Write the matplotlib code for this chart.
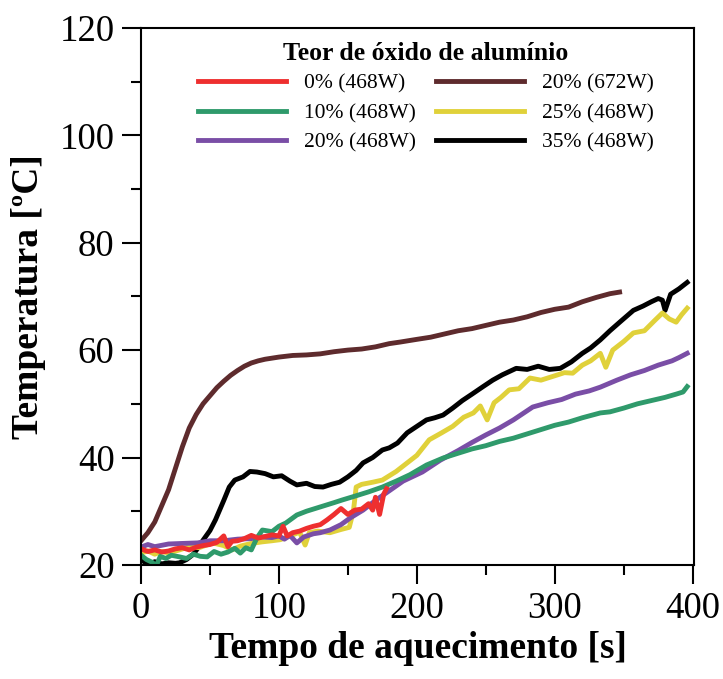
import matplotlib
matplotlib.use("Agg")
import matplotlib.pyplot as plt
from matplotlib.ticker import MultipleLocator

plt.rcParams['font.family'] = ['Liberation Serif', 'DejaVu Serif']

# tempo [s] / temperatura [C]
t_red = [0, 5, 10, 15, 20, 25, 30, 35, 40, 45, 50, 55, 60, 63, 66, 70, 75, 80, 85, 90, 95, 100, 103, 106, 110,
         115, 120, 125, 130, 135, 140, 145, 150, 155, 160, 165, 168, 170, 173, 176, 178]
y_red = [23, 22.5, 22.8, 22.4, 22.6, 23, 23.2, 22.8, 23.3, 23.6, 23.8, 24.2, 25.4, 23.4, 24.4, 24.5, 24.9, 25.5, 25, 25.3,
         25.6, 25.4, 27.2, 25.4, 26, 26.3, 26.8, 27.2, 27.5, 28.4, 29.4, 30.5, 29.4, 30.2, 30.4, 31.4, 30.2, 32.6, 29.4, 33.2, 34.2]

t_green = [0, 4, 8, 11, 14, 18, 22, 28, 33, 38, 43, 48, 53, 58, 63, 68, 72, 76, 80, 84, 88, 95, 100, 105, 113, 120,
           130, 140, 146, 155, 165, 175, 185, 195, 207, 219, 230, 240, 250, 260, 270, 280, 290, 300, 310, 320, 333,
           340, 350, 360, 370, 380, 388, 393, 396]
y_green = [21.8, 21, 20.5, 19.8, 21.6, 21.2, 21.8, 21.5, 21.2, 22, 21.6, 21.5, 22.5, 22, 22.4, 23.1, 22.2, 23.2, 22.8,
           25, 26.5, 26.2, 27.2, 27.8, 29.3, 30, 30.8, 31.6, 32.1, 32.8, 33.6, 34.5, 35.6, 36.8, 38.6, 39.9, 40.8, 41.6,
           42.2, 43, 43.6, 44.4, 45.2, 46, 46.6, 47.4, 48.3, 48.5, 49.2, 50, 50.6, 51.2, 51.8, 52.2, 53.2]

t_purple = [0, 5, 10, 20, 30, 41, 50, 60, 70, 80, 88, 95, 100, 104, 108, 113, 118, 125, 130, 137, 145, 152, 161, 170,
            180, 190, 204, 217, 230, 240, 250, 260, 270, 284, 295, 305, 315, 325, 333, 345, 355, 365, 375, 385, 390, 396]
y_purple = [23.3, 23.8, 23.4, 23.9, 24, 24.1, 24.5, 24.5, 24.8, 24.9, 25.2, 25.1, 25.4, 24.8, 25.5, 24.1, 25.2, 25.8,
            26, 26.5, 27.5, 28.8, 30.2, 32, 33.8, 35.6, 37.3, 39.5, 41.3, 42.8, 44.2, 45.5, 47, 49.4, 50.2, 50.8, 51.8,
            52.4, 53.1, 54.4, 55.4, 56.2, 57.2, 58, 58.6, 59.4]

t_brown = [0, 5, 10, 15, 20, 25, 30, 35, 40, 45, 50, 55, 60, 65, 70, 75, 80, 85, 90, 100, 110, 120, 130, 140, 150,
           160, 170, 180, 188, 200, 210, 220, 230, 240, 250, 260, 270, 280, 290, 300, 310, 320, 330, 340, 347]
y_brown = [24.5, 26, 28, 31, 34, 38, 42, 45.5, 48, 50, 51.5, 53, 54.2, 55.3, 56.2, 57, 57.6, 58, 58.3, 58.7, 59, 59.1,
           59.3, 59.7, 60, 60.2, 60.6, 61.2, 61.5, 62, 62.4, 63, 63.6, 64, 64.6, 65.2, 65.6, 66.2, 67, 67.6, 68, 69,
           69.8, 70.5, 70.8]

t_yellow = [0, 5, 10, 15, 20, 28, 35, 42, 52, 60, 66, 72, 80, 88, 95, 101, 108, 115, 119, 122, 128, 137, 145, 151,
            154, 156, 160, 168, 175, 185, 193, 200, 209, 218, 226, 234, 241, 246, 251, 256, 261, 267, 274, 282, 290,
            301, 307, 313, 320, 326, 333, 337, 342, 350, 357, 365, 372, 378, 383, 388, 392, 396]
y_yellow = [22.2, 22.6, 22, 22.5, 22.2, 22.8, 23.4, 23.2, 24.1, 23.6, 22.8, 23.5, 24, 24.3, 24.5, 24.7, 25.4, 26.1,
            23.7, 26, 26.3, 26, 26.6, 27, 30, 34.5, 35, 35.4, 35.8, 37.4, 39, 40.4, 43.3, 44.6, 45.8, 47.5, 48.3, 49.6,
            47, 50.2, 51.2, 52.6, 52.8, 54.8, 54.4, 55.3, 55.8, 55.7, 57.2, 58, 59.4, 56.8, 60, 61.6, 63.2, 63.6, 65.4,
            66.9, 65.8, 65.2, 66.6, 67.8]

t_black = [0, 3, 6, 10, 15, 20, 25, 28, 33, 38, 42, 45, 50, 54, 57, 60, 64, 68, 74, 79, 84, 90, 96, 102, 108, 113,
           120, 126, 132, 138, 144, 150, 156, 161, 168, 175, 180, 186, 193, 200, 207, 213, 219, 226, 233, 240, 248,
           255, 262, 272, 280, 288, 296, 304, 312, 320, 326, 333, 340, 348, 357, 364, 370, 375, 378, 380, 384, 390,
           396]
y_black = [21.2, 20.4, 20.2, 20.6, 20.2, 20.4, 20.3, 20.4, 21, 22, 23.4, 24.6, 26.4, 28.4, 30.2, 32, 34.5, 35.8, 36.4,
           37.4, 37.3, 37, 36.4, 36.6, 35.6, 34.9, 35.2, 34.6, 34.5, 35, 35.4, 36.4, 37.6, 39, 40, 41.4, 41.8, 42.7,
           44.6, 45.8, 47, 47.4, 47.9, 49.2, 50.6, 51.8, 53.2, 54.4, 55.4, 56.6, 56.4, 57, 56.4, 56.6, 57.8, 59.4,
           60.4, 61.9, 63.6, 65.4, 67.4, 68.2, 69, 69.6, 69.3, 67.4, 70.4, 71.4, 72.6]

labels = ['0% (468W)', '10% (468W)', '20% (468W)', '20% (672W)', '25% (468W)', '35% (468W)']
colors = ['#ee2f2f', '#2f9a6b', '#7a4ea6', '#5e2b2d', '#e0d13a', '#000000']

fig = plt.figure(figsize=(7.23, 6.79), dpi=100)
ax = fig.add_axes([0.195, 0.168, 0.765, 0.791])

series = [(t_red, y_red), (t_green, y_green), (t_purple, y_purple),
          (t_brown, y_brown), (t_yellow, y_yellow), (t_black, y_black)]
order = [3, 5, 4, 2, 1, 0]
handles = [None] * 6
for i in order:
    t, y = series[i]
    ln, = ax.plot(t, y, color=colors[i], lw=3.5, solid_joinstyle='round', label=labels[i])
    handles[i] = ln

ax.set_xlim(0, 401)
ax.set_ylim(20, 120)
ax.xaxis.set_major_locator(MultipleLocator(100))
ax.xaxis.set_minor_locator(MultipleLocator(50))
ax.yaxis.set_major_locator(MultipleLocator(20))
ax.yaxis.set_minor_locator(MultipleLocator(10))
ax.tick_params(which='major', direction='out', length=14, width=1.5, labelsize=26.5, pad=5,
               top=False, right=False)
ax.tick_params(which='minor', direction='out', length=7, width=1.5, top=False, right=False)
for s in ax.spines.values():
    s.set_linewidth(1.5)

ax.set_xlabel('Tempo de aquecimento [s]', fontsize=27, fontweight='bold', labelpad=4)
ax.set_ylabel('Temperatura [ºC]', fontsize=27, fontweight='bold', labelpad=10)

leg = ax.legend(handles=handles, ncol=2, loc='upper center', bbox_to_anchor=(0.515, 1.01), frameon=False,
                fontsize=15.5, title='Teor de óxido de alumínio', handlelength=4.1, handletextpad=0.8,
                columnspacing=0.95, labelspacing=0.42)
leg.get_title().set_fontweight('bold')
leg.get_title().set_fontsize(18.5)

fig.savefig('out.png', dpi=100)
